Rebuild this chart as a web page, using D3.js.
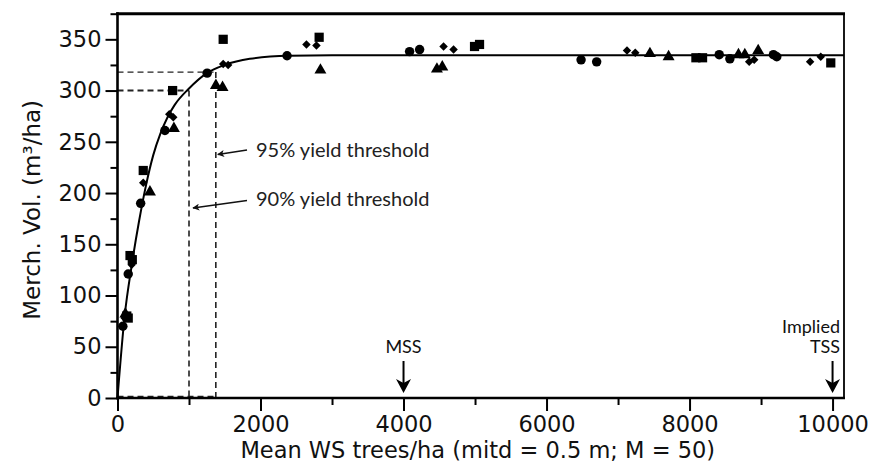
<!DOCTYPE html>
<html>
<head>
<meta charset="utf-8">
<script src="https://cdn.jsdelivr.net/npm/d3@7"></script>
<style>
  html, body { margin: 0; padding: 0; background: #fff; }
  svg { display: block; }
</style>
</head>
<body>
<svg id="chart" width="875" height="470"></svg>
<script>
// ---------------- data ----------------
const circles = [[75,70],[150,121],[324,190],[663,261],[1254,317],[2371,334],[4085,338],[4225,340],[6483,330],[6701,328],[8415,335],[8564,331],[9173,335],[9220,333]];
const squares = [[130,80],[150,78],[175,139],[207,135],[360,222],[771,300],[1478,350],[2820,352],[4993,343],[5063,345],[8089,332],[8182,332],[9975,327]];
const diamonds = [[100,78],[198,130],[360,210],[724,277],[780,274],[1478,326],[1547,325],[2642,345],[2782,344],[4560,343],[4700,340],[7125,339],[7241,337],[8834,328],[8904,330],[9686,328],[9835,333]];
const triangles = [[110,82],[454,201],[789,263],[1376,305],[1469,303],[2838,320],[4467,321],[4542,323],[7446,336],[7707,333],[8684,335],[8773,335],[8960,339]];

// fitted curve
const curveX = [0,100,200,300,400,500,600,700,800,1000,1250,1500,1850,2400,3000,10160];
const curveY = [0,80,130,172,208,237,258,274,286,302,317,325,331,334,334.5,334.5];

// thresholds
const thr90 = {x:1000, y:300};
const thr95 = {x:1375, y:318};

const xMajorTicks = [0,2000,4000,6000,8000,10000];
const xMinorTicks = [1000,3000,5000,7000,9000];
const yMajorTicks = [0,50,100,150,200,250,300,350];
const yMinorTicks = [25,75,125,175,225,275,325,375];

const xTitle = "Mean WS trees/ha (mitd = 0.5 m; M = 50)";
const yTitle = "Merch. Vol. (m³/ha)";
const annot95 = "95% yield threshold";
const annot90 = "90% yield threshold";
const markerMSS = {x:4000, label:["MSS"]};
const markerTSS = {x:10000, label:["Implied","TSS"]};

// ---------------- chart ----------------
const svg = d3.select("#chart");
const L = 117.5, R = 844, T = 13.7, B = 398;
const x = d3.scaleLinear().domain([0, 10160]).range([L, R]);
const y = d3.scaleLinear().domain([0, 375]).range([B, T]);

const tickFont = "DejaVu Sans, sans-serif";
const annFont = "Lato, 'Open Sans', sans-serif";

// dashed threshold lines
const dash = svg.append("g").attr("stroke", "#222").attr("stroke-width", 1.6)
  .attr("stroke-dasharray", "6,4").attr("fill", "none");
dash.append("line").attr("x1", x(0)).attr("x2", x(thr90.x)).attr("y1", y(thr90.y)).attr("y2", y(thr90.y)).attr("stroke-width", 2);
dash.append("line").attr("x1", x(thr90.x)).attr("x2", x(thr90.x)).attr("y1", y(thr90.y)).attr("y2", y(0));
dash.append("line").attr("x1", x(0)).attr("x2", x(thr95.x)).attr("y1", y(thr95.y)).attr("y2", y(thr95.y)).attr("stroke-width", 1.3);
dash.append("line").attr("x1", x(thr95.x)).attr("x2", x(thr95.x)).attr("y1", y(thr95.y)).attr("y2", y(0));
dash.append("line").attr("x1", x(0)).attr("x2", x(thr95.x)).attr("y1", y(0) - 1.5).attr("y2", y(0) - 1.5);

// curve
const line = d3.line().x(d => x(d[0])).y(d => y(d[1])).curve(d3.curveMonotoneX);
svg.append("path").datum(d3.zip(curveX, curveY)).attr("d", line)
  .attr("fill", "none").attr("stroke", "#000").attr("stroke-width", 2);

// points
const pts = svg.append("g").attr("fill", "#000");
const sym = (type, size) => d3.symbol().type(type).size(size);
pts.selectAll(".c").data(circles).join("path")
  .attr("d", sym(d3.symbolCircle, 70)()).attr("transform", d => `translate(${x(d[0])},${y(d[1])})`);
pts.selectAll(".s").data(squares).join("path")
  .attr("d", sym(d3.symbolSquare, 85)()).attr("transform", d => `translate(${x(d[0])},${y(d[1])})`);
pts.selectAll(".d").data(diamonds).join("path")
  .attr("d", sym(d3.symbolSquare, 36)()).attr("transform", d => `translate(${x(d[0])},${y(d[1])}) rotate(45)`);
pts.selectAll(".t").data(triangles).join("path")
  .attr("d", sym(d3.symbolTriangle, 62)()).attr("transform", d => `translate(${x(d[0])},${y(d[1])})`);

// axes
const gx = svg.append("g").attr("transform", `translate(0,${B})`)
  .call(d3.axisBottom(x).tickValues(xMajorTicks).tickSize(13).tickPadding(5).tickFormat(d3.format("d")));
const gxm = svg.append("g").attr("transform", `translate(0,${B})`)
  .call(d3.axisBottom(x).tickValues(xMinorTicks).tickSize(7).tickFormat(""));
const gy = svg.append("g").attr("transform", `translate(${L},0)`)
  .call(d3.axisLeft(y).tickValues(yMajorTicks).tickSize(12).tickPadding(4).tickFormat(d3.format("d")));
const gym = svg.append("g").attr("transform", `translate(${L},0)`)
  .call(d3.axisLeft(y).tickValues(yMinorTicks).tickSize(7).tickFormat(""));
[gx, gxm, gy, gym].forEach(g => {
  g.select(".domain").remove();
  g.selectAll("line").attr("stroke", "#000").attr("stroke-width", 2);
  g.selectAll("text").attr("fill", "#111").style("font-family", tickFont).style("font-size", "22.5px");
});

// frame
svg.append("line").attr("x1", L).attr("x2", L).attr("y1", T - 1.5).attr("y2", B + 1.2).attr("stroke", "#000").attr("stroke-width", 2.6);
svg.append("line").attr("x1", L - 1.3).attr("x2", R + 1).attr("y1", B).attr("y2", B).attr("stroke", "#000").attr("stroke-width", 2.6);
svg.append("line").attr("x1", L - 1.3).attr("x2", R + 1).attr("y1", T).attr("y2", T).attr("stroke", "#000").attr("stroke-width", 3);
svg.append("line").attr("x1", R).attr("x2", R).attr("y1", T).attr("y2", B).attr("stroke", "#000").attr("stroke-width", 1.8);

// axis titles
svg.append("text").attr("x", (L + R) / 2 - 3).attr("y", 458).attr("text-anchor", "middle")
  .style("font-family", tickFont).style("font-size", "22.5px").attr("fill", "#111").text(xTitle);
svg.append("text").attr("transform", `translate(40,${(T + B) / 2 + 4}) rotate(-90)`).attr("text-anchor", "middle")
  .style("font-family", tickFont).style("font-size", "23px").attr("fill", "#111").text(yTitle);

// arrow head defs
const defs = svg.append("defs");
defs.append("marker").attr("id", "ah").attr("viewBox", "0 0 10 10").attr("refX", 9).attr("refY", 5)
  .attr("markerWidth", 9).attr("markerHeight", 7).attr("markerUnits", "userSpaceOnUse").attr("orient", "auto")
  .append("path").attr("d", "M0,0 L10,5 L0,10 L2.5,5 Z").attr("fill", "#111");

// threshold annotations
const ann = svg.append("g").style("font-family", annFont).style("font-size", "20px").attr("fill", "#222");
ann.append("text").attr("x", 256).attr("y", 157).text(annot95);
ann.append("text").attr("x", 256).attr("y", 206).text(annot90);
svg.append("line").attr("x1", 247).attr("y1", 150).attr("x2", x(thr95.x) + 2).attr("y2", 154.5)
  .attr("stroke", "#111").attr("stroke-width", 1.5).attr("marker-end", "url(#ah)");
svg.append("line").attr("x1", 247).attr("y1", 200.5).attr("x2", x(thr90.x) + 4).attr("y2", 208)
  .attr("stroke", "#111").attr("stroke-width", 1.5).attr("marker-end", "url(#ah)");

// MSS / TSS markers
function downArrow(cx) {
  const g = svg.append("g");
  g.append("line").attr("x1", cx).attr("x2", cx).attr("y1", 361).attr("y2", 384).attr("stroke", "#000").attr("stroke-width", 2);
  g.append("path").attr("d", `M${cx},${393} L${cx - 7.5},${379} L${cx},${383} L${cx + 7.5},${379} Z`).attr("fill", "#000");
}
downArrow(x(markerMSS.x));
downArrow(x(markerTSS.x));
svg.append("text").attr("x", x(markerMSS.x)).attr("y", 353).attr("text-anchor", "middle")
  .style("font-family", annFont).style("font-size", "18px").attr("fill", "#111").text(markerMSS.label[0]);
const tssT = svg.append("text").attr("text-anchor", "end")
  .style("font-family", annFont).style("font-size", "18px").attr("fill", "#111");
tssT.append("tspan").attr("x", 840).attr("y", 333).text(markerTSS.label[0]);
tssT.append("tspan").attr("x", 840).attr("y", 353).text(markerTSS.label[1]);
</script>
</body>
</html>
